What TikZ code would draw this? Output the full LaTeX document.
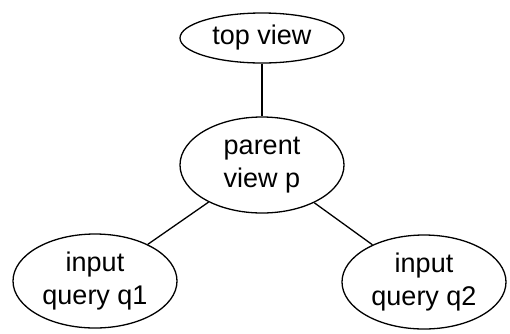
\documentclass[tikz,border=0pt]{standalone}
\usepackage{fontspec}
\setmainfont{Liberation Sans}
\usetikzlibrary{shapes.geometric}
\tikzset{
  view/.style={ellipse, draw, line width=1.3pt, inner sep=0pt,
    minimum width=164pt, align=center,
    font=\fontsize{27}{33}\selectfont},
  link/.style={line width=1.3pt}
}
\begin{document}
\begin{tikzpicture}[x=1pt,y=-1pt]
    \useasboundingbox (0,0) rectangle (510,333);
    \node[view, minimum height=50pt] at (262,38) (top) {top view};
    \node[view, minimum height=96pt] at (262,165) (parent) {parent\\view p};
    \node[view, minimum height=94pt] at (95,281) (q1) {input\\query q1};
    \node[view, minimum height=94pt] at (424,282) (q2) {input\\query q2};
    \draw[link] (top) -- (parent);
    \draw[link] (parent) -- (q1);
    \draw[link] (parent) -- (q2);
  \end{tikzpicture}
\end{document}
